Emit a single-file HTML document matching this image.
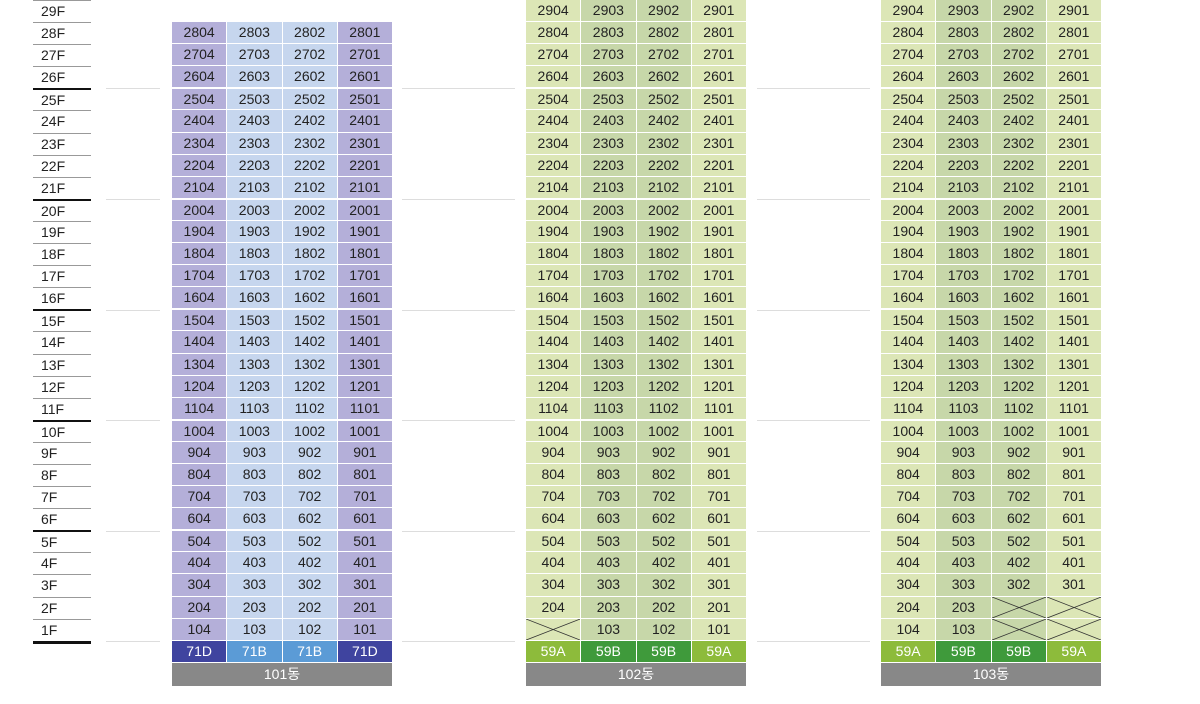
<!DOCTYPE html><html><head><meta charset="utf-8"><style>
*{margin:0;padding:0;box-sizing:border-box}
body{width:1200px;height:704px;background:#fff;position:relative;overflow:hidden;font-family:"Liberation Sans","Noto Sans CJK KR",sans-serif;font-size:14px;color:#222}
.fl{position:absolute;left:33px;top:0;width:58px}
.fl div{height:22.1px;border-top:1px solid #999;padding-left:8px;line-height:21px}
.fl div.t{border-top:2px solid #111;line-height:20px}
.fl .end{height:0;border-top:3px solid #111}
.b{position:absolute;width:220px}
.r{display:flex;height:22.1px}
.r i{font-style:normal;flex:1;text-align:center;line-height:21px;border-right:1px solid #fff;border-bottom:1px solid #fff;position:relative}
.r i:last-child{border-right:0}
.r.g i{border-top:1px solid #fff;line-height:20px}
.p{background:#b4afd9}.l{background:#c6d6ee}
.y{background:#dce6b6}.z{background:#c7d7a9}
.ty i{color:#fff;line-height:21px;height:22px}
.d{background:#3f449f!important}.e{background:#5b9bd6!important}
.m{background:#8dbb3b!important}.n{background:#3f9a3b!important}
.lab{height:23px;background:#888;color:#fff;text-align:center;line-height:23px}
.x svg{position:absolute;left:0;top:0;width:100%;height:100%}
.sep{position:absolute;height:1px;background:#ddd}
</style></head><body>
<div class="fl">
<div>29F</div><div>28F</div><div>27F</div><div>26F</div><div class="t">25F</div><div>24F</div><div>23F</div><div>22F</div><div>21F</div><div class="t">20F</div><div>19F</div><div>18F</div><div>17F</div><div>16F</div><div class="t">15F</div><div>14F</div><div>13F</div><div>12F</div><div>11F</div><div class="t">10F</div><div>9F</div><div>8F</div><div>7F</div><div>6F</div><div class="t">5F</div><div>4F</div><div>3F</div><div>2F</div><div>1F</div><div class="end"></div>
</div>
<div class="sep" style="left:106px;width:54px;top:88px"></div><div class="sep" style="left:106px;width:54px;top:199px"></div><div class="sep" style="left:106px;width:54px;top:310px"></div><div class="sep" style="left:106px;width:54px;top:420px"></div><div class="sep" style="left:106px;width:54px;top:531px"></div><div class="sep" style="left:106px;width:54px;top:641px"></div>
<div class="sep" style="left:402px;width:113px;top:88px"></div><div class="sep" style="left:402px;width:113px;top:199px"></div><div class="sep" style="left:402px;width:113px;top:310px"></div><div class="sep" style="left:402px;width:113px;top:420px"></div><div class="sep" style="left:402px;width:113px;top:531px"></div><div class="sep" style="left:402px;width:113px;top:641px"></div>
<div class="sep" style="left:757px;width:113px;top:88px"></div><div class="sep" style="left:757px;width:113px;top:199px"></div><div class="sep" style="left:757px;width:113px;top:310px"></div><div class="sep" style="left:757px;width:113px;top:420px"></div><div class="sep" style="left:757px;width:113px;top:531px"></div><div class="sep" style="left:757px;width:113px;top:641px"></div>

<div class="b" style="left:172px;top:22.1px">
<div class="r"><i class="p">2804</i><i class="l">2803</i><i class="l">2802</i><i class="p">2801</i></div>
<div class="r"><i class="p">2704</i><i class="l">2703</i><i class="l">2702</i><i class="p">2701</i></div>
<div class="r"><i class="p">2604</i><i class="l">2603</i><i class="l">2602</i><i class="p">2601</i></div>
<div class="r g"><i class="p">2504</i><i class="l">2503</i><i class="l">2502</i><i class="p">2501</i></div>
<div class="r"><i class="p">2404</i><i class="l">2403</i><i class="l">2402</i><i class="p">2401</i></div>
<div class="r"><i class="p">2304</i><i class="l">2303</i><i class="l">2302</i><i class="p">2301</i></div>
<div class="r"><i class="p">2204</i><i class="l">2203</i><i class="l">2202</i><i class="p">2201</i></div>
<div class="r"><i class="p">2104</i><i class="l">2103</i><i class="l">2102</i><i class="p">2101</i></div>
<div class="r g"><i class="p">2004</i><i class="l">2003</i><i class="l">2002</i><i class="p">2001</i></div>
<div class="r"><i class="p">1904</i><i class="l">1903</i><i class="l">1902</i><i class="p">1901</i></div>
<div class="r"><i class="p">1804</i><i class="l">1803</i><i class="l">1802</i><i class="p">1801</i></div>
<div class="r"><i class="p">1704</i><i class="l">1703</i><i class="l">1702</i><i class="p">1701</i></div>
<div class="r"><i class="p">1604</i><i class="l">1603</i><i class="l">1602</i><i class="p">1601</i></div>
<div class="r g"><i class="p">1504</i><i class="l">1503</i><i class="l">1502</i><i class="p">1501</i></div>
<div class="r"><i class="p">1404</i><i class="l">1403</i><i class="l">1402</i><i class="p">1401</i></div>
<div class="r"><i class="p">1304</i><i class="l">1303</i><i class="l">1302</i><i class="p">1301</i></div>
<div class="r"><i class="p">1204</i><i class="l">1203</i><i class="l">1202</i><i class="p">1201</i></div>
<div class="r"><i class="p">1104</i><i class="l">1103</i><i class="l">1102</i><i class="p">1101</i></div>
<div class="r g"><i class="p">1004</i><i class="l">1003</i><i class="l">1002</i><i class="p">1001</i></div>
<div class="r"><i class="p">904</i><i class="l">903</i><i class="l">902</i><i class="p">901</i></div>
<div class="r"><i class="p">804</i><i class="l">803</i><i class="l">802</i><i class="p">801</i></div>
<div class="r"><i class="p">704</i><i class="l">703</i><i class="l">702</i><i class="p">701</i></div>
<div class="r"><i class="p">604</i><i class="l">603</i><i class="l">602</i><i class="p">601</i></div>
<div class="r g"><i class="p">504</i><i class="l">503</i><i class="l">502</i><i class="p">501</i></div>
<div class="r"><i class="p">404</i><i class="l">403</i><i class="l">402</i><i class="p">401</i></div>
<div class="r"><i class="p">304</i><i class="l">303</i><i class="l">302</i><i class="p">301</i></div>
<div class="r"><i class="p">204</i><i class="l">203</i><i class="l">202</i><i class="p">201</i></div>
<div class="r"><i class="p">104</i><i class="l">103</i><i class="l">102</i><i class="p">101</i></div>
<div class="r ty"><i class="d">71D</i><i class="e">71B</i><i class="e">71B</i><i class="d">71D</i></div>
<div class="lab">101동</div>
</div>

<div class="b" style="left:526px;top:0">
<div class="r"><i class="y">2904</i><i class="z">2903</i><i class="z">2902</i><i class="y">2901</i></div>
<div class="r"><i class="y">2804</i><i class="z">2803</i><i class="z">2802</i><i class="y">2801</i></div>
<div class="r"><i class="y">2704</i><i class="z">2703</i><i class="z">2702</i><i class="y">2701</i></div>
<div class="r"><i class="y">2604</i><i class="z">2603</i><i class="z">2602</i><i class="y">2601</i></div>
<div class="r g"><i class="y">2504</i><i class="z">2503</i><i class="z">2502</i><i class="y">2501</i></div>
<div class="r"><i class="y">2404</i><i class="z">2403</i><i class="z">2402</i><i class="y">2401</i></div>
<div class="r"><i class="y">2304</i><i class="z">2303</i><i class="z">2302</i><i class="y">2301</i></div>
<div class="r"><i class="y">2204</i><i class="z">2203</i><i class="z">2202</i><i class="y">2201</i></div>
<div class="r"><i class="y">2104</i><i class="z">2103</i><i class="z">2102</i><i class="y">2101</i></div>
<div class="r g"><i class="y">2004</i><i class="z">2003</i><i class="z">2002</i><i class="y">2001</i></div>
<div class="r"><i class="y">1904</i><i class="z">1903</i><i class="z">1902</i><i class="y">1901</i></div>
<div class="r"><i class="y">1804</i><i class="z">1803</i><i class="z">1802</i><i class="y">1801</i></div>
<div class="r"><i class="y">1704</i><i class="z">1703</i><i class="z">1702</i><i class="y">1701</i></div>
<div class="r"><i class="y">1604</i><i class="z">1603</i><i class="z">1602</i><i class="y">1601</i></div>
<div class="r g"><i class="y">1504</i><i class="z">1503</i><i class="z">1502</i><i class="y">1501</i></div>
<div class="r"><i class="y">1404</i><i class="z">1403</i><i class="z">1402</i><i class="y">1401</i></div>
<div class="r"><i class="y">1304</i><i class="z">1303</i><i class="z">1302</i><i class="y">1301</i></div>
<div class="r"><i class="y">1204</i><i class="z">1203</i><i class="z">1202</i><i class="y">1201</i></div>
<div class="r"><i class="y">1104</i><i class="z">1103</i><i class="z">1102</i><i class="y">1101</i></div>
<div class="r g"><i class="y">1004</i><i class="z">1003</i><i class="z">1002</i><i class="y">1001</i></div>
<div class="r"><i class="y">904</i><i class="z">903</i><i class="z">902</i><i class="y">901</i></div>
<div class="r"><i class="y">804</i><i class="z">803</i><i class="z">802</i><i class="y">801</i></div>
<div class="r"><i class="y">704</i><i class="z">703</i><i class="z">702</i><i class="y">701</i></div>
<div class="r"><i class="y">604</i><i class="z">603</i><i class="z">602</i><i class="y">601</i></div>
<div class="r g"><i class="y">504</i><i class="z">503</i><i class="z">502</i><i class="y">501</i></div>
<div class="r"><i class="y">404</i><i class="z">403</i><i class="z">402</i><i class="y">401</i></div>
<div class="r"><i class="y">304</i><i class="z">303</i><i class="z">302</i><i class="y">301</i></div>
<div class="r"><i class="y">204</i><i class="z">203</i><i class="z">202</i><i class="y">201</i></div>
<div class="r"><i class="y x"><svg viewBox="0 0 100 100" preserveAspectRatio="none"><path d="M0 0L100 100M0 100L100 0" stroke="#333" stroke-width="0.8" vector-effect="non-scaling-stroke" fill="none"/></svg></i><i class="z">103</i><i class="z">102</i><i class="y">101</i></div>
<div class="r ty"><i class="m">59A</i><i class="n">59B</i><i class="n">59B</i><i class="m">59A</i></div>
<div class="lab">102동</div>
</div>

<div class="b" style="left:881px;top:0">
<div class="r"><i class="y">2904</i><i class="z">2903</i><i class="z">2902</i><i class="y">2901</i></div>
<div class="r"><i class="y">2804</i><i class="z">2803</i><i class="z">2802</i><i class="y">2801</i></div>
<div class="r"><i class="y">2704</i><i class="z">2703</i><i class="z">2702</i><i class="y">2701</i></div>
<div class="r"><i class="y">2604</i><i class="z">2603</i><i class="z">2602</i><i class="y">2601</i></div>
<div class="r g"><i class="y">2504</i><i class="z">2503</i><i class="z">2502</i><i class="y">2501</i></div>
<div class="r"><i class="y">2404</i><i class="z">2403</i><i class="z">2402</i><i class="y">2401</i></div>
<div class="r"><i class="y">2304</i><i class="z">2303</i><i class="z">2302</i><i class="y">2301</i></div>
<div class="r"><i class="y">2204</i><i class="z">2203</i><i class="z">2202</i><i class="y">2201</i></div>
<div class="r"><i class="y">2104</i><i class="z">2103</i><i class="z">2102</i><i class="y">2101</i></div>
<div class="r g"><i class="y">2004</i><i class="z">2003</i><i class="z">2002</i><i class="y">2001</i></div>
<div class="r"><i class="y">1904</i><i class="z">1903</i><i class="z">1902</i><i class="y">1901</i></div>
<div class="r"><i class="y">1804</i><i class="z">1803</i><i class="z">1802</i><i class="y">1801</i></div>
<div class="r"><i class="y">1704</i><i class="z">1703</i><i class="z">1702</i><i class="y">1701</i></div>
<div class="r"><i class="y">1604</i><i class="z">1603</i><i class="z">1602</i><i class="y">1601</i></div>
<div class="r g"><i class="y">1504</i><i class="z">1503</i><i class="z">1502</i><i class="y">1501</i></div>
<div class="r"><i class="y">1404</i><i class="z">1403</i><i class="z">1402</i><i class="y">1401</i></div>
<div class="r"><i class="y">1304</i><i class="z">1303</i><i class="z">1302</i><i class="y">1301</i></div>
<div class="r"><i class="y">1204</i><i class="z">1203</i><i class="z">1202</i><i class="y">1201</i></div>
<div class="r"><i class="y">1104</i><i class="z">1103</i><i class="z">1102</i><i class="y">1101</i></div>
<div class="r g"><i class="y">1004</i><i class="z">1003</i><i class="z">1002</i><i class="y">1001</i></div>
<div class="r"><i class="y">904</i><i class="z">903</i><i class="z">902</i><i class="y">901</i></div>
<div class="r"><i class="y">804</i><i class="z">803</i><i class="z">802</i><i class="y">801</i></div>
<div class="r"><i class="y">704</i><i class="z">703</i><i class="z">702</i><i class="y">701</i></div>
<div class="r"><i class="y">604</i><i class="z">603</i><i class="z">602</i><i class="y">601</i></div>
<div class="r g"><i class="y">504</i><i class="z">503</i><i class="z">502</i><i class="y">501</i></div>
<div class="r"><i class="y">404</i><i class="z">403</i><i class="z">402</i><i class="y">401</i></div>
<div class="r"><i class="y">304</i><i class="z">303</i><i class="z">302</i><i class="y">301</i></div>
<div class="r"><i class="y">204</i><i class="z">203</i><i class="z x"><svg viewBox="0 0 100 100" preserveAspectRatio="none"><path d="M0 0L100 100M0 100L100 0" stroke="#333" stroke-width="0.8" vector-effect="non-scaling-stroke" fill="none"/></svg></i><i class="y x"><svg viewBox="0 0 100 100" preserveAspectRatio="none"><path d="M0 0L100 100M0 100L100 0" stroke="#333" stroke-width="0.8" vector-effect="non-scaling-stroke" fill="none"/></svg></i></div>
<div class="r"><i class="y">104</i><i class="z">103</i><i class="z x"><svg viewBox="0 0 100 100" preserveAspectRatio="none"><path d="M0 0L100 100M0 100L100 0" stroke="#333" stroke-width="0.8" vector-effect="non-scaling-stroke" fill="none"/></svg></i><i class="y x"><svg viewBox="0 0 100 100" preserveAspectRatio="none"><path d="M0 0L100 100M0 100L100 0" stroke="#333" stroke-width="0.8" vector-effect="non-scaling-stroke" fill="none"/></svg></i></div>
<div class="r ty"><i class="m">59A</i><i class="n">59B</i><i class="n">59B</i><i class="m">59A</i></div>
<div class="lab">103동</div>
</div>
</body></html>
